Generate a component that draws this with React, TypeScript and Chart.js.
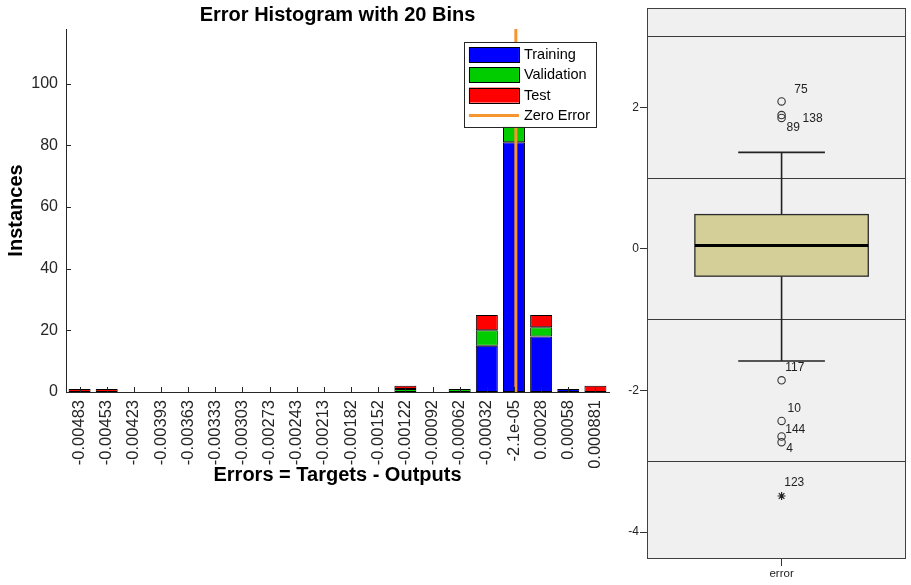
import React, { useEffect, useRef } from 'react';
import { Chart, registerables } from 'chart.js';

Chart.register(...registerables);

// ---- Error histogram (20 bins) ----
const binLabels = [
  '-0.00483', '-0.00453', '-0.00423', '-0.00393', '-0.00363',
  '-0.00333', '-0.00303', '-0.00273', '-0.00243', '-0.00213',
  '-0.00182', '-0.00152', '-0.00122', '-0.00092', '-0.00062',
  '-0.00032', '-2.1e-05', '0.00028', '0.00058', '0.000881',
];
const trainingCounts = [0, 0, 0, 0, 0, 0, 0, 0, 0, 0, 0, 0, 0, 0, 0, 15, 81, 18, 1, 0];
const validationCounts = [0, 0, 0, 0, 0, 0, 0, 0, 0, 0, 0, 0, 1, 0, 1, 5, 15, 3, 0, 0];
const testCounts = [1, 1, 0, 0, 0, 0, 0, 0, 0, 0, 0, 0, 1, 0, 0, 5, 11, 4, 0, 2];
const zeroError = 0;

// ---- Box plot of the standardized error ----
const boxCategory = 'error';
const boxQuartiles = [-0.385, 0.048, 0.485]; // Q1, median, Q3
const whiskerEnds = [-1.584, 1.364];
const outlierCases = ['75', '138', '89', '117', '10', '144', '4'];
const outlierValues = [2.083, 1.89, 1.85, -1.856, -2.43, -2.65, -2.73];
const extremeCases = ['123'];
const extremeValues = [-3.49];

const FONT = '"Liberation Sans", Arial, Helvetica, sans-serif';
const AXIS = '#262626';

const totals = binLabels.map((_, i) => trainingCounts[i] + validationCounts[i] + testCounts[i]);
const yTop = Math.max(...totals) * 1.1;
const centers = binLabels.map(Number);
const binStep = (centers[centers.length - 1] - centers[0]) / (centers.length - 1);
const hideZero = (a: number[]) => a.map((v) => (v === 0 ? null : v));

// MATLAB-style tick marks pointing into the plot area
const inwardTicks = {
  id: 'inwardTicks',
  afterDatasetsDraw(chart: any) {
    const { ctx, chartArea, scales } = chart;
    const xs = scales.x;
    const ys = scales.y;
    ctx.save();
    ctx.strokeStyle = AXIS;
    ctx.lineWidth = 1;
    ctx.beginPath();
    ys.ticks.forEach((t: any) => {
      const py = Math.round(ys.getPixelForValue(t.value)) + 0.5;
      ctx.moveTo(chartArea.left, py);
      ctx.lineTo(chartArea.left + 5, py);
    });
    xs.ticks.forEach((_: any, i: number) => {
      const px = Math.round(xs.getPixelForTick(i)) + 0.5;
      ctx.moveTo(px, chartArea.bottom);
      ctx.lineTo(px, chartArea.bottom - 5);
    });
    ctx.stroke();
    ctx.restore();
  },
};

// Boxed legend in the upper right of the plot area
const histLegend = {
  id: 'histLegend',
  afterDraw(chart: any) {
    const { ctx, chartArea } = chart;
    const sets = chart.data.datasets;
    const fontSize = 14.5;
    const padL = 5, swW = 50, swH = 15, gap = 5, padR = 6, padT = 5, padB = 4, row = 20.3;
    ctx.save();
    ctx.font = `${fontSize}px ${FONT}`;
    const textW = Math.max(...sets.map((d: any) => ctx.measureText(d.label).width));
    const w = padL + swW + gap + textW + padR;
    const h = padT + swH + row * (sets.length - 1) + padB;
    const right = chartArea.right - 13;
    const top = chartArea.top + 13;
    const left = right - w;
    ctx.fillStyle = '#ffffff';
    ctx.fillRect(left, top, w, h);
    ctx.strokeStyle = AXIS;
    ctx.lineWidth = 1;
    ctx.strokeRect(Math.round(left) + 0.5, Math.round(top) + 0.5, Math.round(w), Math.round(h));
    sets.forEach((d: any, i: number) => {
      const cy = top + padT + swH / 2 + i * row;
      const sx = left + padL;
      if (d.type === 'line') {
        ctx.strokeStyle = d.borderColor;
        ctx.lineWidth = d.borderWidth;
        ctx.beginPath();
        ctx.moveTo(sx, cy);
        ctx.lineTo(sx + swW, cy);
        ctx.stroke();
      } else {
        ctx.fillStyle = d.backgroundColor;
        ctx.fillRect(sx, cy - swH / 2, swW, swH);
        ctx.strokeStyle = '#000';
        ctx.lineWidth = 1;
        ctx.strokeRect(Math.round(sx) + 0.5, Math.round(cy - swH / 2) + 0.5, swW, swH);
      }
      ctx.fillStyle = '#000';
      ctx.textAlign = 'left';
      ctx.textBaseline = 'middle';
      ctx.fillText(d.label, sx + swW + gap, cy + 0.5);
    });
    ctx.restore();
  },
};

// Box plot pieces
const boxHalf = 0.335;
const capHalf = 0.1675;
const labelNudge: Record<string, [number, number]> = {
  '75': [12.7, -11.7],
  '138': [21, 3.6],
  '89': [5, 9.4],
  '117': [3.7, -12.7],
  '10': [6, -12.4],
  '144': [3.7, -6.7],
  '4': [4.7, 7],
  '123': [2.7, -13],
};

const panelBackground = {
  id: 'panelBackground',
  beforeDraw(chart: any) {
    const { ctx, chartArea } = chart;
    ctx.save();
    ctx.fillStyle = '#F0F0F0';
    ctx.fillRect(chartArea.left, chartArea.top, chartArea.right - chartArea.left, chartArea.bottom - chartArea.top);
    ctx.restore();
  },
  afterDraw(chart: any) {
    const { ctx, chartArea } = chart;
    ctx.save();
    ctx.strokeStyle = '#404040';
    ctx.lineWidth = 1;
    ctx.strokeRect(
      Math.round(chartArea.left) + 0.5,
      Math.round(chartArea.top) + 0.5,
      Math.round(chartArea.right - chartArea.left) - 1,
      Math.round(chartArea.bottom - chartArea.top) - 1,
    );
    ctx.restore();
  },
};

const boxAndWhiskers = {
  id: 'boxAndWhiskers',
  beforeDatasetsDraw(chart: any) {
    const { ctx, scales } = chart;
    const bx = scales.x;
    const by = scales.y;
    const cx = bx.getPixelForValue(0);
    const left = bx.getPixelForValue(-boxHalf);
    const right = bx.getPixelForValue(boxHalf);
    const capL = bx.getPixelForValue(-capHalf);
    const capR = bx.getPixelForValue(capHalf);
    const [q1, med, q3] = boxQuartiles.map((v) => by.getPixelForValue(v));
    const [lo, hi] = whiskerEnds.map((v) => by.getPixelForValue(v));
    ctx.save();
    ctx.strokeStyle = '#222';
    ctx.lineWidth = 1.6;
    ctx.beginPath();
    ctx.moveTo(cx, q3);
    ctx.lineTo(cx, hi);
    ctx.moveTo(capL, hi);
    ctx.lineTo(capR, hi);
    ctx.moveTo(cx, q1);
    ctx.lineTo(cx, lo);
    ctx.moveTo(capL, lo);
    ctx.lineTo(capR, lo);
    ctx.stroke();
    ctx.fillStyle = '#D4CF98';
    ctx.fillRect(left, q3, right - left, q1 - q3);
    ctx.strokeStyle = '#2a2a2a';
    ctx.lineWidth = 1.3;
    ctx.strokeRect(left, q3, right - left, q1 - q3);
    ctx.strokeStyle = '#000';
    ctx.lineWidth = 3;
    ctx.beginPath();
    ctx.moveTo(left, med);
    ctx.lineTo(right, med);
    ctx.stroke();
    ctx.restore();
  },
  afterDatasetsDraw(chart: any) {
    const { ctx } = chart;
    ctx.save();
    ctx.font = `12px ${FONT}`;
    ctx.fillStyle = '#222';
    ctx.textAlign = 'left';
    ctx.textBaseline = 'middle';
    chart.data.datasets.forEach((d: any, di: number) => {
      const meta = chart.getDatasetMeta(di);
      meta.data.forEach((pt: any, i: number) => {
        const id = d.caseIds[i];
        const [dx, dy] = labelNudge[id] || [6, -10];
        ctx.fillText(id, pt.x + dx, pt.y + dy);
      });
    });
    ctx.restore();
  },
};

const isOdd = (v: number) => Math.abs(Math.round(v)) % 2 === 1;

const barStyle = {
  borderColor: '#000',
  borderWidth: 1,
  borderSkipped: false,
  grouped: false,
  barPercentage: 0.81,
  categoryPercentage: 1,
  xAxisID: 'x',
};

export default function App() {
  const histRef = useRef<HTMLCanvasElement | null>(null);
  const boxRef = useRef<HTMLCanvasElement | null>(null);

  useEffect(() => {
    if (!histRef.current || !boxRef.current) return;

    const hist = new Chart(histRef.current, {
      type: 'bar',
      data: {
        labels: binLabels,
        datasets: [
          { label: 'Training', data: hideZero(trainingCounts), backgroundColor: '#0000FF', ...barStyle },
          { label: 'Validation', data: hideZero(validationCounts), backgroundColor: '#00CC00', ...barStyle },
          { label: 'Test', data: hideZero(testCounts), backgroundColor: '#FF0000', ...barStyle },
          {
            type: 'line',
            label: 'Zero Error',
            xAxisID: 'xz',
            data: [
              { x: zeroError, y: 0 },
              { x: zeroError, y: yTop },
            ],
            borderColor: '#F7962E',
            borderWidth: 3,
            pointRadius: 0,
            order: -1,
          } as any,
        ] as any,
      },
      options: {
        animation: false,
        responsive: false,
        events: [],
        layout: { padding: { left: 0, right: 6, top: 0, bottom: 0 } },
        plugins: {
          legend: { display: false },
          tooltip: { enabled: false },
          title: {
            display: true,
            text: 'Error Histogram with 20 Bins',
            fullSize: false,
            color: '#000',
            font: { family: FONT, size: 20, weight: 'bold' },
            padding: { top: 3, bottom: 2 },
          },
        },
        scales: {
          x: {
            type: 'category',
            stacked: true,
            offset: true,
            grid: { display: false, drawTicks: false },
            border: { display: true, color: AXIS, width: 1 },
            ticks: {
              autoSkip: false,
              minRotation: 90,
              maxRotation: 90,
              padding: 8,
              color: AXIS,
              font: { family: FONT, size: 16.5 },
            },
            title: {
              display: true,
              text: 'Errors = Targets - Outputs',
              color: '#000',
              font: { family: FONT, size: 20, weight: 'bold' },
              padding: { top: 0, bottom: 98 },
            },
            afterFit: (s: any) => {
              s.height = 193;
              s.paddingLeft = 0;
              s.paddingRight = 0;
            },
          },
          xz: {
            type: 'linear',
            display: false,
            offset: false,
            min: centers[0] - binStep / 2,
            max: centers[centers.length - 1] + binStep / 2,
          },
          y: {
            stacked: true,
            min: 0,
            max: yTop,
            grid: { display: false, drawTicks: false },
            border: { display: true, color: AXIS, width: 1 },
            ticks: {
              stepSize: 20,
              includeBounds: false,
              padding: 8,
              color: AXIS,
              font: { family: FONT, size: 16 },
            },
            title: {
              display: true,
              text: 'Instances',
              color: '#000',
              font: { family: FONT, size: 20, weight: 'bold' },
              padding: { top: 4, bottom: 0 },
            },
            afterFit: (s: any) => {
              s.width = 66;
            },
          },
        },
      } as any,
      plugins: [inwardTicks, histLegend],
    });

    const box = new Chart(boxRef.current, {
      type: 'scatter',
      data: {
        datasets: [
          {
            label: 'outliers',
            caseIds: outlierCases,
            data: outlierValues.map((v) => ({ x: 0, y: v })),
            pointStyle: 'circle',
            pointRadius: 3.7,
            borderColor: '#333',
            backgroundColor: 'rgba(0,0,0,0)',
            borderWidth: 1.1,
          } as any,
          {
            label: 'extremes',
            caseIds: extremeCases,
            data: extremeValues.map((v) => ({ x: 0, y: v })),
            pointStyle: 'star',
            pointRadius: 4,
            borderColor: '#222',
            backgroundColor: '#222',
            borderWidth: 1.2,
          } as any,
        ],
      },
      options: {
        animation: false,
        responsive: false,
        events: [],
        layout: { padding: { left: 0, right: 2, top: 7, bottom: 0 } },
        plugins: { legend: { display: false }, tooltip: { enabled: false } },
        scales: {
          x: {
            type: 'linear',
            offset: false,
            min: -0.52,
            max: 0.48,
            afterBuildTicks: (s: any) => {
              s.ticks = [{ value: 0 }];
            },
            ticks: {
              callback: () => boxCategory,
              padding: 1,
              color: '#222',
              font: { family: FONT, size: 11.5 },
            },
            grid: { drawOnChartArea: false, tickLength: 7, tickColor: '#333', lineWidth: 1 },
            border: { display: false },
            afterFit: (s: any) => {
              s.height = 26;
            },
          },
          y: {
            min: -4.38,
            max: 3.4,
            ticks: {
              stepSize: 1,
              includeBounds: false,
              padding: 1,
              color: '#222',
              font: { family: FONT, size: 12 },
              callback: (v: any) => (isOdd(Number(v)) ? '' : String(Math.round(Number(v)))),
            },
            grid: {
              color: (c: any) => (c.tick && isOdd(c.tick.value) ? '#3a3a3a' : 'rgba(0,0,0,0)'),
              tickColor: (c: any) => (c.tick && !isOdd(c.tick.value) ? '#333' : 'rgba(0,0,0,0)'),
              tickLength: 7,
              lineWidth: 1,
            },
            border: { display: false },
            afterFit: (s: any) => {
              s.width = 32;
            },
          },
        },
      } as any,
      plugins: [panelBackground, boxAndWhiskers],
    });

    return () => {
      hist.destroy();
      box.destroy();
    };
  }, []);

  return (
    <div style={{ position: 'fixed', left: 0, top: 0, width: 911, height: 585, background: '#fff', overflow: 'hidden' }}>
      <canvas ref={histRef} width={615} height={585} style={{ position: 'absolute', left: 0, top: 0 }} />
      <canvas ref={boxRef} width={296} height={585} style={{ position: 'absolute', left: 615, top: 0 }} />
    </div>
  );
}
